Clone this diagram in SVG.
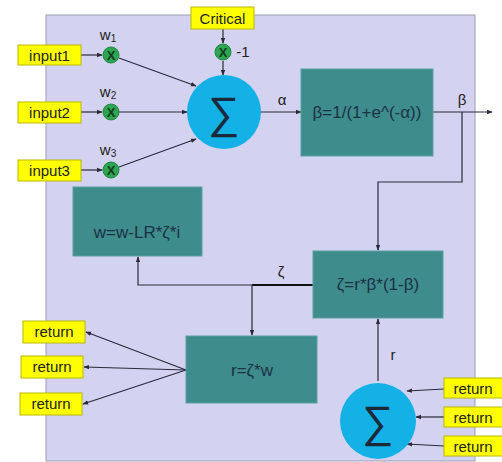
<svg xmlns="http://www.w3.org/2000/svg" width="502" height="462" viewBox="0 0 502 462">
<style>
text{font-family:"Liberation Sans",Arial,sans-serif;fill:#222}
.y{fill:#ffff00;stroke:#b8b800;stroke-width:1}
.yt{font-size:15px;text-anchor:middle}
.teal{fill:#3f8c8c;stroke:#5aa0a0;stroke-width:1}
.tt{font-size:17px;text-anchor:middle;fill:#1c3244}
.m{fill:#2ea552;stroke:#1e8a3e;stroke-width:1}
.mt{font-size:13px;text-anchor:middle;fill:#123a1e;font-weight:bold}
.s{fill:#14b1e7}
.st{font-size:44px;text-anchor:middle;fill:#1a2a3a}
.lbl{font-size:15px;text-anchor:middle}
.c{fill:none;stroke:#2a2a3a;stroke-width:1.2}
</style>
<defs>
<marker id="a" viewBox="0 0 8 8" refX="7" refY="4" markerWidth="5" markerHeight="5" orient="auto"><path d="M0,1 L8,4 L0,7 z" fill="#2a2a3a"/></marker>
</defs>
<rect id="panel" x="46" y="15" width="429" height="446" fill="#d3d3f1" stroke="#9d9db5" stroke-width="1"/>
<g id="connectors">
<line class="c" x1="81" y1="55" x2="102" y2="55" marker-end="url(#a)"/>
<line class="c" x1="81" y1="112" x2="102" y2="112" marker-end="url(#a)"/>
<line class="c" x1="81" y1="170" x2="102" y2="170" marker-end="url(#a)"/>
<line class="c" x1="119" y1="58" x2="196" y2="86" marker-end="url(#a)"/>
<line class="c" x1="119" y1="112" x2="187" y2="112" marker-end="url(#a)"/>
<line class="c" x1="119" y1="167" x2="196" y2="139" marker-end="url(#a)"/>
<line class="c" x1="223" y1="29" x2="223" y2="43" marker-end="url(#a)"/>
<line class="c" x1="223" y1="61" x2="223" y2="75" marker-end="url(#a)"/>
<line class="c" x1="261" y1="112" x2="301" y2="112" marker-end="url(#a)"/>
<line class="c" x1="433" y1="112" x2="492" y2="112" marker-end="url(#a)"/>
<polyline class="c" points="462,112 462,182 378,182 378,250" marker-end="url(#a)"/>
<polyline class="c" points="313,285 138,285 138,257" marker-end="url(#a)"/>
<line stroke="#111" stroke-width="2" x1="252" y1="285" x2="313" y2="285"/>
<line class="c" x1="252" y1="285" x2="252" y2="335" marker-end="url(#a)"/>
<line class="c" x1="186" y1="370" x2="86" y2="332" marker-end="url(#a)"/>
<line class="c" x1="186" y1="370" x2="84" y2="367" marker-end="url(#a)"/>
<line class="c" x1="186" y1="370" x2="83" y2="404" marker-end="url(#a)"/>
<line class="c" x1="378" y1="381" x2="378" y2="319" marker-end="url(#a)"/>
<line class="c" x1="444" y1="389" x2="407" y2="391" marker-end="url(#a)"/>
<line class="c" x1="444" y1="417" x2="416" y2="417" marker-end="url(#a)"/>
<line class="c" x1="444" y1="446" x2="407" y2="444" marker-end="url(#a)"/>
</g>
<g id="input1"><rect class="y" x="18" y="45" width="63" height="20"/><text class="yt" x="49.5" y="60.5">input1</text></g>
<g id="input2"><rect class="y" x="18" y="102" width="63" height="21"/><text class="yt" x="49.5" y="118">input2</text></g>
<g id="input3"><rect class="y" x="18" y="160" width="63" height="21"/><text class="yt" x="49.5" y="176">input3</text></g>
<g id="critical"><rect class="y" x="191" y="7" width="63" height="22"/><text class="yt" x="222.5" y="23.5">Critical</text></g>
<g id="mul1"><circle class="m" cx="111" cy="55" r="8"/><text class="mt" x="111" y="59.5">X</text><text class="lbl" x="108" y="40">w<tspan font-size="10" dy="2">1</tspan></text></g>
<g id="mul2"><circle class="m" cx="111" cy="112" r="8"/><text class="mt" x="111" y="116.5">X</text><text class="lbl" x="108" y="97">w<tspan font-size="10" dy="2">2</tspan></text></g>
<g id="mul3"><circle class="m" cx="111" cy="170" r="8"/><text class="mt" x="111" y="174.5">X</text><text class="lbl" x="108" y="155">w<tspan font-size="10" dy="2">3</tspan></text></g>
<g id="mulc"><circle class="m" cx="223" cy="52" r="8"/><text class="mt" x="223" y="56.5">X</text><text class="lbl" x="243" y="57">-1</text></g>
<g id="sum1"><circle class="s" cx="224" cy="112" r="37"/><text class="st" x="224" y="128">∑</text></g>
<text class="lbl" x="282" y="105">α</text>
<g id="sigmoid"><rect class="teal" x="301" y="69" width="132" height="87"/><text class="tt" x="367" y="118">β=1/(1+e^(-α))</text></g>
<text class="lbl" x="462" y="105">β</text>
<g id="zeta"><rect class="teal" x="313" y="251" width="130" height="67"/><text class="tt" x="378" y="290">ζ=r*β*(1-β)</text></g>
<text class="lbl" x="281" y="277">ζ</text>
<g id="update"><rect class="teal" x="73" y="187" width="129" height="69"/><text class="tt" x="137" y="238">w=w-LR*ζ*i</text></g>
<g id="rbox"><rect class="teal" x="186" y="336" width="131" height="67"/><text class="tt" x="252" y="376">r=ζ*w</text></g>
<g id="ret1"><rect class="y" x="23" y="321" width="62" height="22"/><text class="yt" x="54" y="337">return</text></g>
<g id="ret2"><rect class="y" x="21" y="356" width="62" height="22"/><text class="yt" x="52" y="372">return</text></g>
<g id="ret3"><rect class="y" x="20" y="393" width="62" height="22"/><text class="yt" x="51" y="409">return</text></g>
<g id="sum2"><circle class="s" cx="378" cy="421" r="38"/><text class="st" x="378" y="437">∑</text></g>
<text class="lbl" x="393" y="360">r</text>
<g id="ret4"><rect class="y" x="444" y="378" width="60" height="20"/><text class="yt" x="473" y="393.5">return</text></g>
<g id="ret5"><rect class="y" x="444" y="407" width="60" height="20"/><text class="yt" x="473" y="422.5">return</text></g>
<g id="ret6"><rect class="y" x="444" y="436" width="60" height="20"/><text class="yt" x="473" y="451.5">return</text></g>
</svg>
